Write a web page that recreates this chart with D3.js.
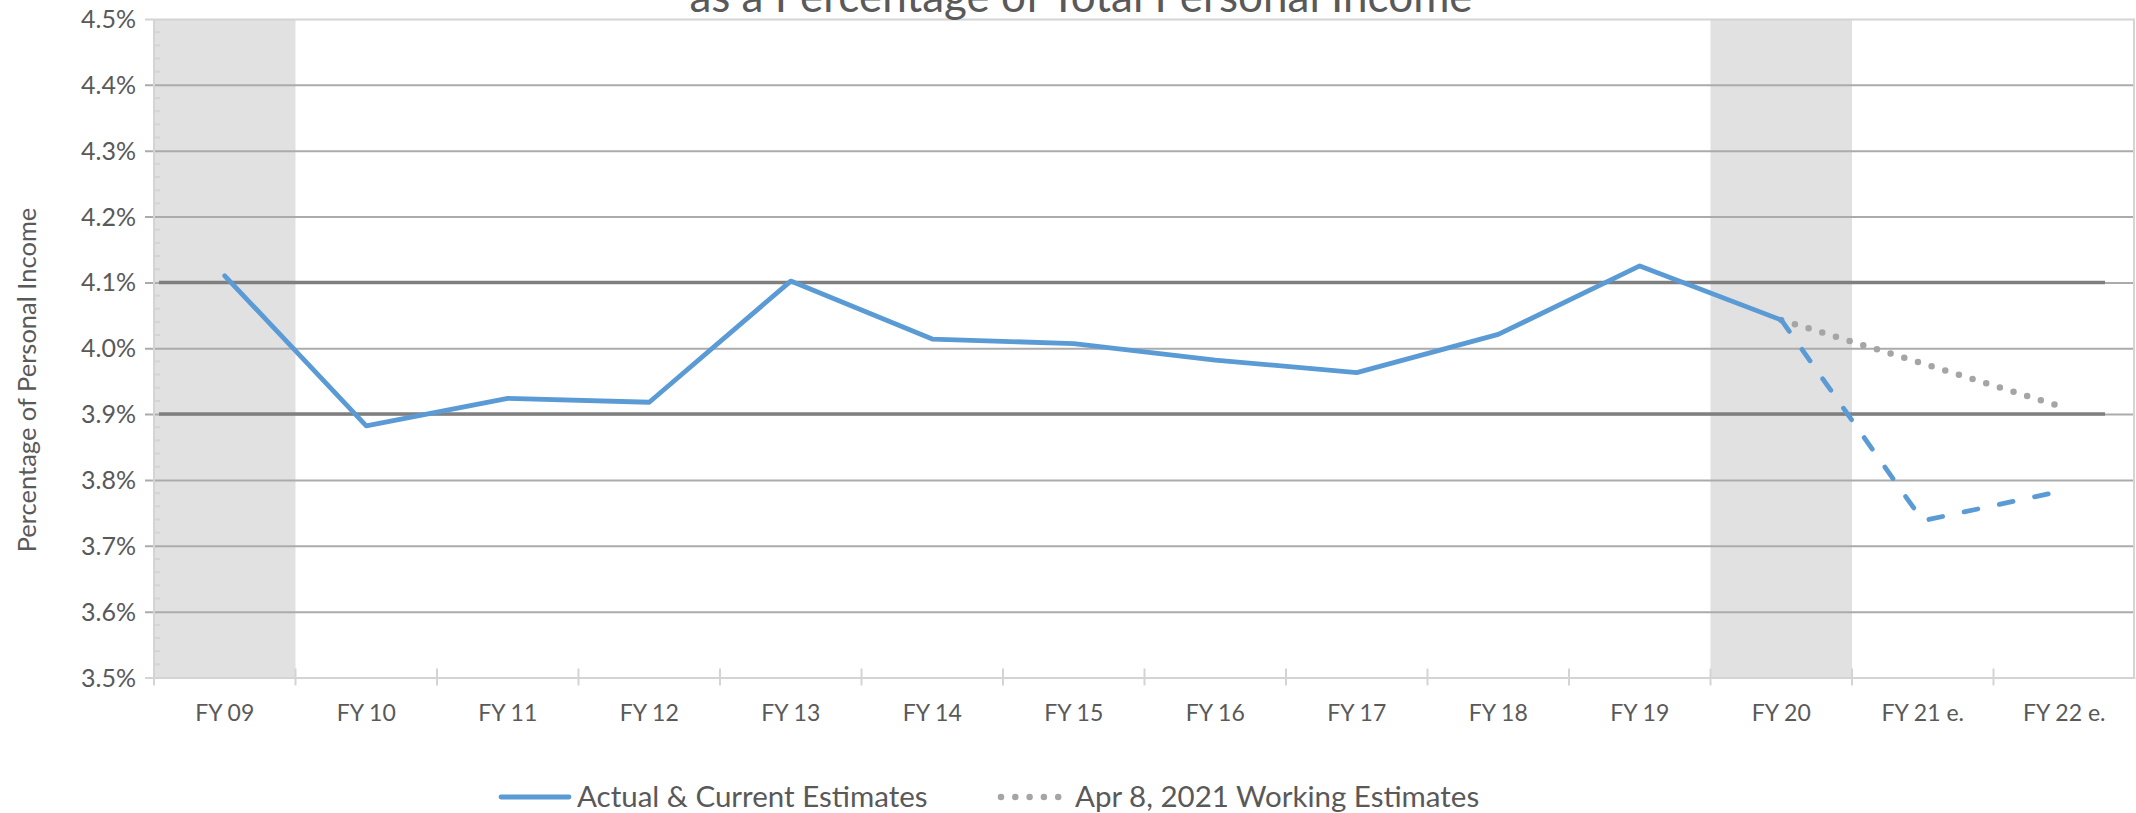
<!DOCTYPE html>
<html>
<head>
<meta charset="utf-8">
<script src="https://cdn.jsdelivr.net/npm/d3@7"></script>
<style>
  html, body { margin: 0; padding: 0; background: #fff; }
  svg { display: block; font-family: Lato, "Open Sans", sans-serif; }
</style>
</head>
<body>
<svg id="chart" width="2136" height="813"></svg>
<script>
// Fiscal years on the category axis
const categories = ["FY 09", "FY 10", "FY 11", "FY 12", "FY 13", "FY 14", "FY 15",
                    "FY 16", "FY 17", "FY 18", "FY 19", "FY 20", "FY 21 e.", "FY 22 e."];

// Actual values, FY 09 – FY 20 (percent of personal income)
const actualYears = categories.slice(0, 12);
const actualValues = [4.11, 3.882, 3.924, 3.918, 4.102, 4.014, 4.007, 3.982, 3.963, 4.021, 4.125, 4.043];

// Current estimates continue from FY 20
const currentYears = ["FY 20", "FY 21 e.", "FY 22 e."];
const currentValues = [4.043, 3.738, 3.784];

// Apr 8, 2021 working estimates
const workingYears = ["FY 20", "FY 21 e.", "FY 22 e."];
const workingValues = [4.043, 3.977, 3.910];

// Horizontal reference band limits
const referenceLevels = [4.1, 3.9];

// Shaded fiscal years
const shadedYears = ["FY 09", "FY 20"];

// Value axis ticks
const yTicks = [3.5, 3.6, 3.7, 3.8, 3.9, 4.0, 4.1, 4.2, 4.3, 4.4, 4.5];
const yMinorStep = 0.02;

const legendLabels = ["Actual & Current Estimates", "Apr 8, 2021 Working Estimates"];
const titleText = "as a Percentage of Total Personal Income";
const yAxisTitle = "Percentage of Personal Income";

// ---- layout ----
const svg = d3.select("#chart");
const plot = { left: 154, right: 2135, top: 19, bottom: 677.5 };

const x = d3.scaleBand().domain(categories).range([plot.left, plot.right]).padding(0);
const xc = d => x(d) + x.bandwidth() / 2;
const y = d3.scaleLinear().domain([3.5, 4.5]).range([plot.bottom, plot.top]);

const blue = "#5b9bd5";
const grayDots = "#a5a5a5";
const textColor = "#595959";

// shaded columns
svg.append("g").selectAll("rect")
  .data(shadedYears)
  .join("rect")
  .attr("x", d => x(d))
  .attr("y", plot.top)
  .attr("width", x.bandwidth())
  .attr("height", plot.bottom - plot.top)
  .attr("fill", "#e1e1e1");

// gridlines with outside major ticks
const grid = svg.append("g")
  .attr("transform", `translate(${plot.left},0)`)
  .call(d3.axisLeft(y).tickValues(yTicks).tickSize(-(plot.right - plot.left)).tickSizeOuter(0)
        .tickFormat(d => d3.format(".1f")(d) + "%").tickPadding(18));
grid.select(".domain").remove();
grid.selectAll(".tick line")
  .attr("x1", -9)
  .attr("stroke", d => (d === 3.5 || d === 4.5) ? "#d4d4d4" : "#ababab")
  .attr("stroke-width", 2);
grid.selectAll(".tick text")
  .attr("fill", textColor)
  .attr("font-size", 25)
  .attr("font-family", "Lato, sans-serif")
  .attr("dy", "0.34em");

// minor ticks on the value axis
const minorVals = d3.range(3.5, 4.5001, yMinorStep).filter(v => Math.abs(Math.round(v * 10) - v * 10) > 1e-6);
svg.append("g").selectAll("line")
  .data(minorVals)
  .join("line")
  .attr("x1", plot.left).attr("x2", plot.left + 6)
  .attr("y1", d => y(d)).attr("y2", d => y(d))
  .attr("stroke", "#d4d4d4").attr("stroke-width", 2);

// value axis line
svg.append("line")
  .attr("x1", plot.left).attr("x2", plot.left)
  .attr("y1", plot.top).attr("y2", plot.bottom + 8)
  .attr("stroke", "#d4d4d4").attr("stroke-width", 2);
// right border of plot area
svg.append("line")
  .attr("x1", plot.right - 1).attr("x2", plot.right - 1)
  .attr("y1", plot.top).attr("y2", plot.bottom)
  .attr("stroke", "#d4d4d4").attr("stroke-width", 2);

// category axis
const xAxis = svg.append("g")
  .attr("transform", `translate(0,${plot.bottom})`)
  .call(d3.axisBottom(x).tickSize(0).tickPadding(43));
xAxis.select(".domain").attr("stroke", "#d4d4d4").attr("stroke-width", 2);
xAxis.selectAll(".tick text")
  .attr("fill", textColor)
  .attr("font-size", 23)
  .attr("font-family", "Lato, sans-serif")
  .attr("dy", 0);
// category boundary ticks
svg.append("g").selectAll("line")
  .data(categories.slice(1))
  .join("line")
  .attr("x1", d => x(d)).attr("x2", d => x(d))
  .attr("y1", plot.bottom - 9).attr("y2", plot.bottom + 8)
  .attr("stroke", "#d4d4d4").attr("stroke-width", 2);

// reference levels
svg.append("g").selectAll("line")
  .data(referenceLevels)
  .join("line")
  .attr("x1", plot.left + 5).attr("x2", plot.right - 30)
  .attr("y1", d => y(d)).attr("y2", d => y(d))
  .attr("stroke", "#7f7f7f").attr("stroke-width", 3.5);

const line = d3.line().x(d => xc(d[0])).y(d => y(d[1]));

// working estimates (dotted)
svg.append("path")
  .datum(d3.zip(workingYears, workingValues))
  .attr("d", line)
  .attr("fill", "none")
  .attr("stroke", grayDots)
  .attr("stroke-width", 6.5)
  .attr("stroke-linecap", "round")
  .attr("stroke-dasharray", "0,14.3");

// current estimates (dashed)
svg.append("path")
  .datum(d3.zip(currentYears, currentValues))
  .attr("d", line)
  .attr("fill", "none")
  .attr("stroke", blue)
  .attr("stroke-width", 4.8)
  .attr("stroke-linecap", "round")
  .attr("stroke-linejoin", "round")
  .attr("stroke-dasharray", "14,22");

// actual (solid)
svg.append("path")
  .datum(d3.zip(actualYears, actualValues))
  .attr("d", line)
  .attr("fill", "none")
  .attr("stroke", blue)
  .attr("stroke-width", 4.8)
  .attr("stroke-linecap", "round")
  .attr("stroke-linejoin", "round");

// title (runs off the top edge)
svg.append("text")
  .attr("x", 1081).attr("y", 12)
  .attr("text-anchor", "middle")
  .attr("fill", textColor)
  .attr("font-size", 44)
  .text(titleText);

// value axis title
svg.append("text")
  .attr("transform", "translate(36,380) rotate(-90)")
  .attr("text-anchor", "middle")
  .attr("fill", textColor)
  .attr("font-size", 25.5)
  .text(yAxisTitle);

// legend
const legend = svg.append("g");
legend.append("line")
  .attr("x1", 501).attr("x2", 569).attr("y1", 797).attr("y2", 797)
  .attr("stroke", blue).attr("stroke-width", 4.8).attr("stroke-linecap", "round");
legend.append("text")
  .attr("x", 577).attr("y", 807)
  .attr("fill", textColor).attr("font-size", 29.5)
  .text(legendLabels[0]);
legend.append("line")
  .attr("x1", 1001).attr("x2", 1066).attr("y1", 797).attr("y2", 797)
  .attr("stroke", grayDots).attr("stroke-width", 6.5)
  .attr("stroke-linecap", "round").attr("stroke-dasharray", "0,14.3");
legend.append("text")
  .attr("x", 1075).attr("y", 807)
  .attr("fill", textColor).attr("font-size", 29.5)
  .text(legendLabels[1]);
</script>
</body>
</html>
